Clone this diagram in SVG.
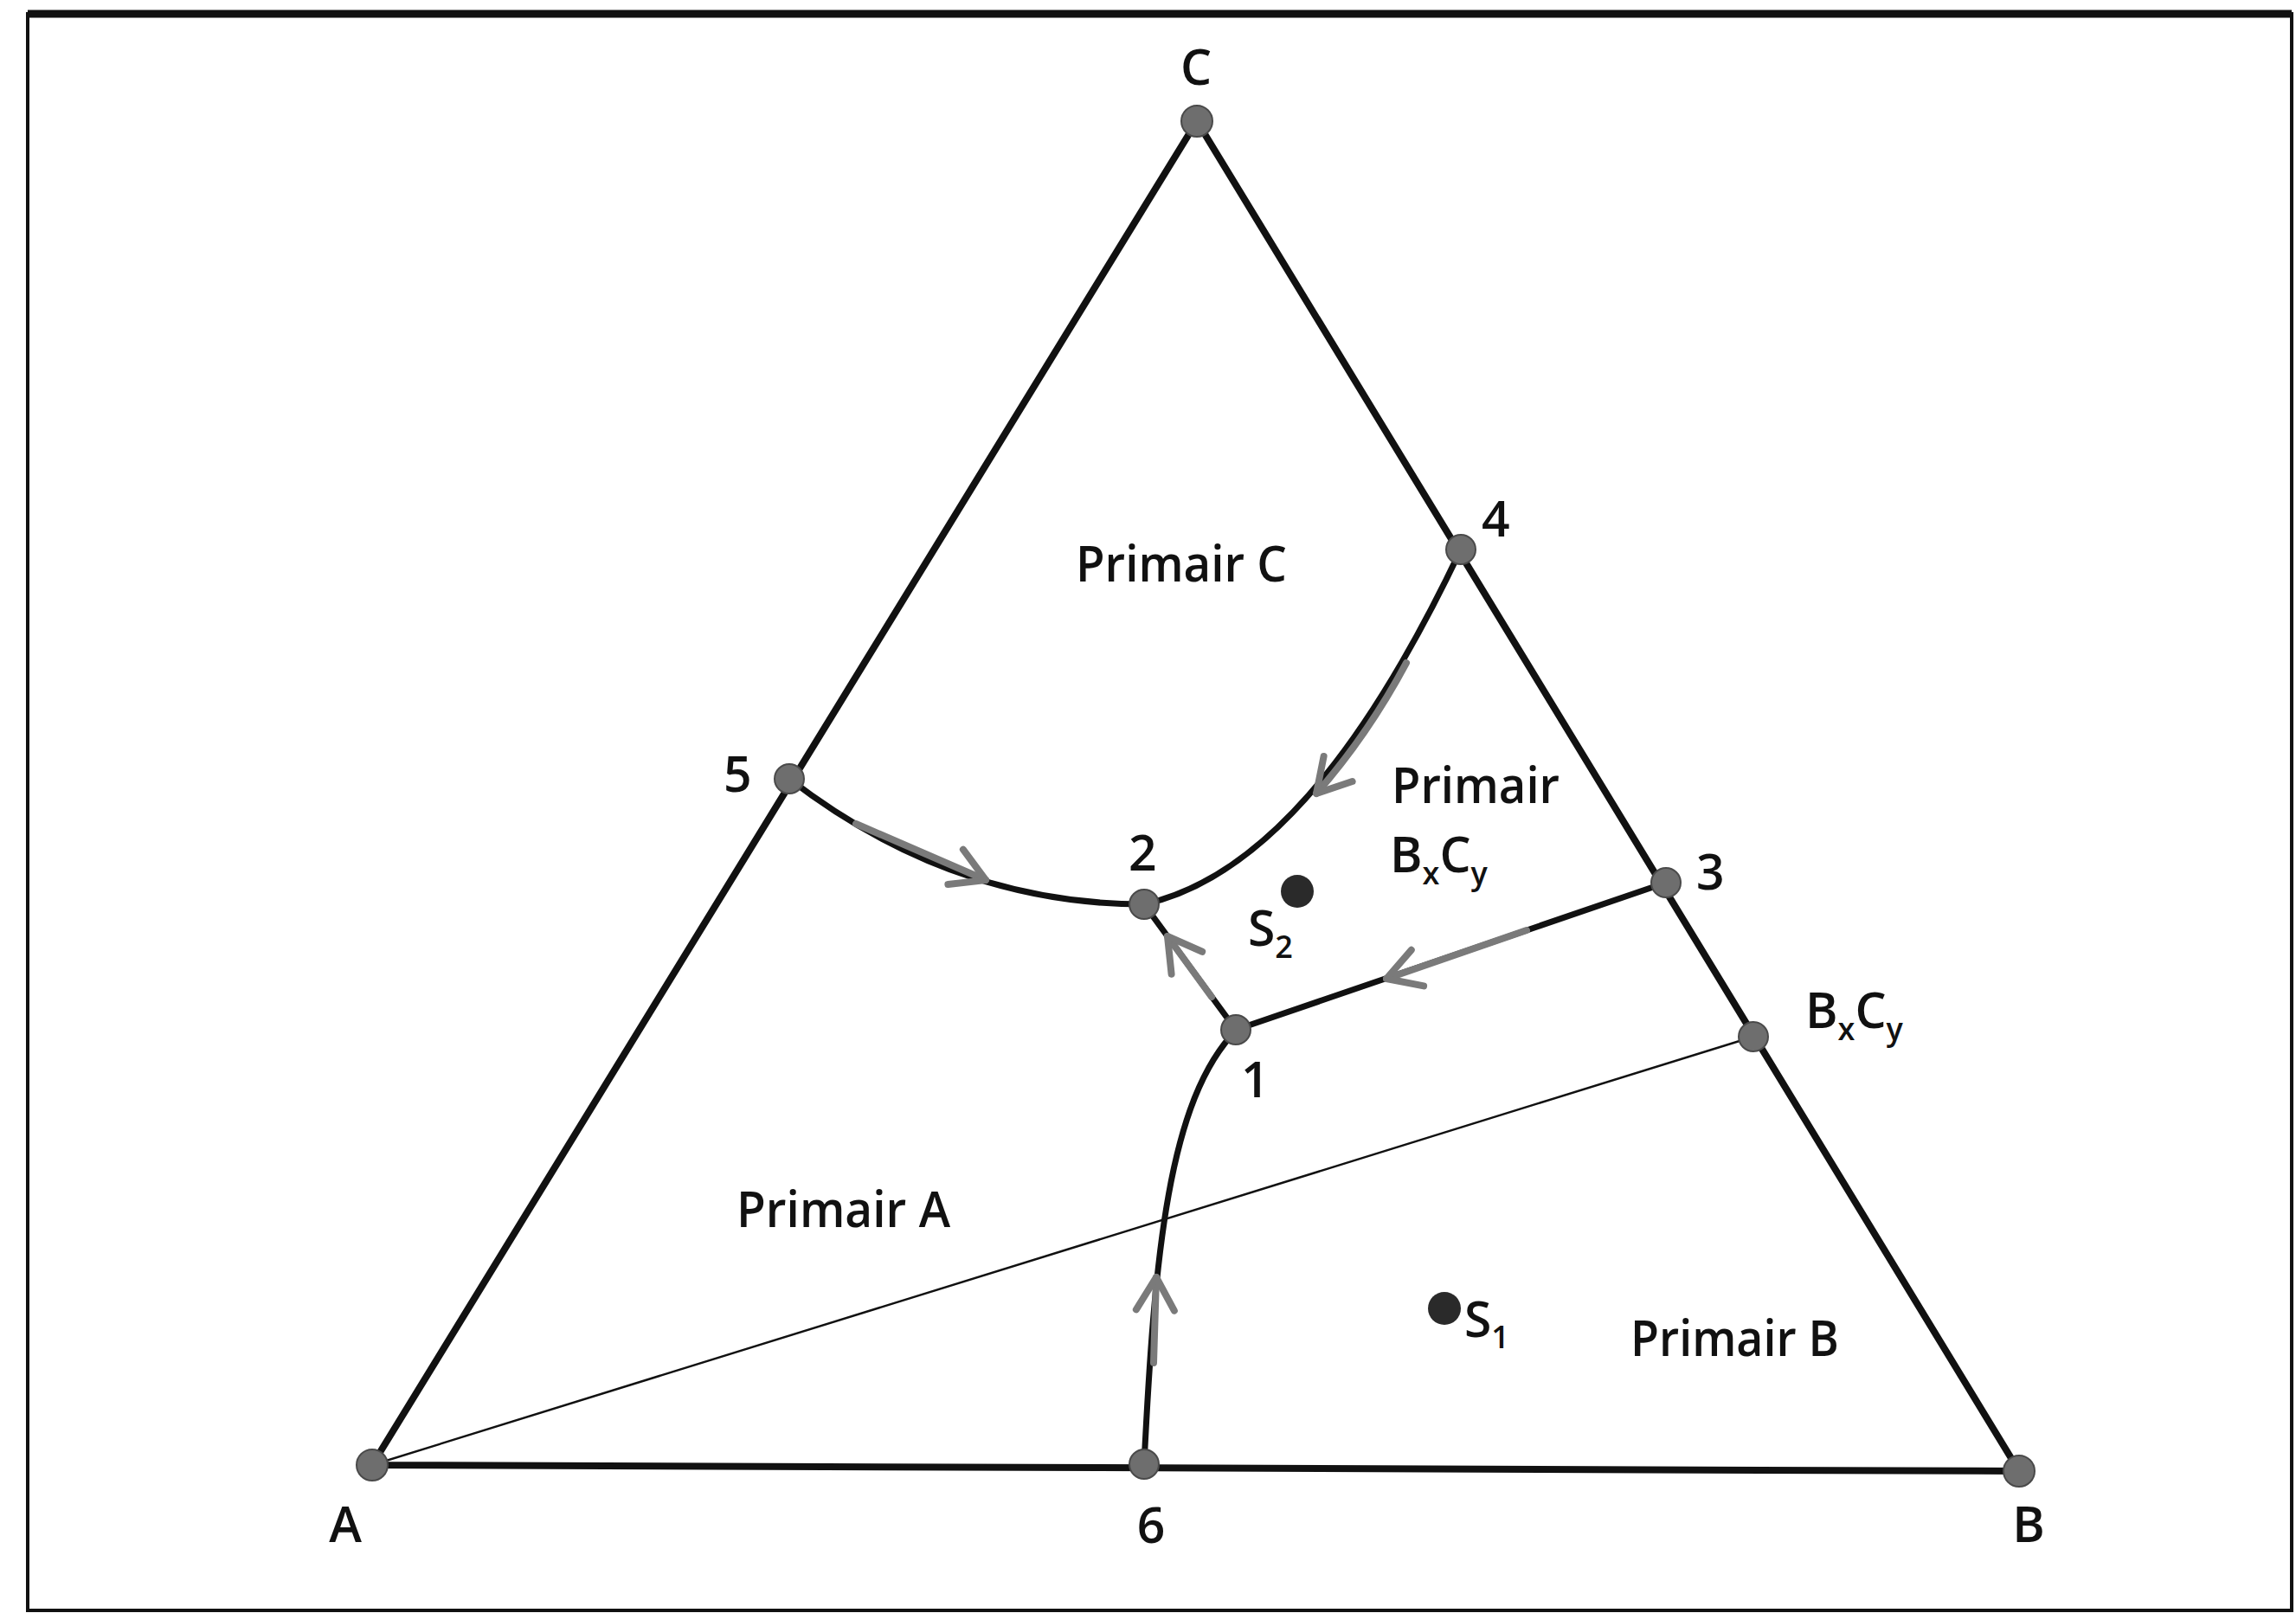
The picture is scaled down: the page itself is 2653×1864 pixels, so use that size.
<svg xmlns="http://www.w3.org/2000/svg" width="2653" height="1864" viewBox="0 0 2653 1864">
<style>
  .lbl { font-family: "Open Sans", "Liberation Sans", sans-serif; font-size: 57px; font-weight: 600; fill: #111; }
  .sub { font-size: 36px; }
  .side { fill: none; stroke: #111; stroke-width: 8; stroke-linecap: round; stroke-linejoin: round; }
  .cur { fill: none; stroke: #111; stroke-width: 7; stroke-linecap: round; }
  .thin { fill: none; stroke: #111; stroke-width: 2.5; }
  .gray { fill: none; stroke: #7a7a7a; stroke-width: 8; stroke-linecap: round; marker-end: url(#arr); }
  .pt { fill: #6e6e6e; stroke: #4a4a4a; stroke-width: 2; }
  .sp { fill: #2a2a2a; }
</style>
<defs>
  <marker id="arr" markerUnits="userSpaceOnUse" viewBox="-50 -30 60 60" markerWidth="60" markerHeight="60" refX="0" refY="0" orient="auto" overflow="visible">
    <path d="M-38,-22 L0,0 L-38,22" fill="none" stroke="#7a7a7a" stroke-width="8" stroke-linecap="round" stroke-linejoin="round"/>
  </marker>
</defs>
<rect x="0" y="0" width="2653" height="1864" fill="#fff"/>
<g id="frame">
  <rect x="32" y="16" width="2616" height="1845" fill="none" stroke="#111" stroke-width="4"/>
  <line x1="32" y1="16" x2="2648" y2="16" stroke="#111" stroke-width="9"/>
</g>
<g id="connectors">
  <path class="side" d="M1383,140 L430,1693 L2333,1700 Z"/>
  <path class="thin" d="M430,1693 L2026,1198"/>
  <path class="cur" d="M912,900 Q1100,1045 1322,1045"/>
  <path class="cur" d="M1688,635 C1600,820 1480,1010 1322,1045"/>
  <path class="cur" d="M1428,1190 L1322,1045"/>
  <path class="cur" d="M1925,1020 L1428,1190"/>
  <path class="cur" d="M1322,1692 C1334,1450 1350,1270 1429,1190"/>
  <path class="gray" d="M989,952 L1139,1017"/>
  <path class="gray" d="M1625,766 Q1580,850 1521,917"/>
  <path class="gray" d="M1764,1075 L1602,1131"/>
  <path class="gray" d="M1400,1152 L1349,1082"/>
  <path class="gray" d="M1333,1575 L1336,1476"/>
</g>
<g id="node-C"><circle class="pt" cx="1383" cy="140" r="18"/><text class="lbl" x="1382" y="98" text-anchor="middle">C</text></g>
<g id="node-A"><circle class="pt" cx="430" cy="1693" r="18"/><text class="lbl" x="399" y="1782" text-anchor="middle">A</text></g>
<g id="node-B"><circle class="pt" cx="2333" cy="1700" r="18"/><text class="lbl" x="2344" y="1782" text-anchor="middle">B</text></g>
<g id="node-4"><circle class="pt" cx="1688" cy="635" r="17"/><text class="lbl" x="1712" y="620">4</text></g>
<g id="node-5"><circle class="pt" cx="912" cy="900" r="17"/><text class="lbl" x="836" y="915">5</text></g>
<g id="node-2"><circle class="pt" cx="1322" cy="1045" r="17"/><text class="lbl" x="1304" y="1006">2</text></g>
<g id="node-3"><circle class="pt" cx="1925" cy="1020" r="17"/><text class="lbl" x="1960" y="1028">3</text></g>
<g id="node-1"><circle class="pt" cx="1428" cy="1190" r="17"/><text class="lbl" x="1434" y="1268">1</text></g>
<g id="node-6"><circle class="pt" cx="1322" cy="1692" r="17"/><text class="lbl" x="1330" y="1783" text-anchor="middle">6</text></g>
<g id="node-BxCy"><circle class="pt" cx="2026" cy="1198" r="17"/><text class="lbl" x="2086" y="1188">B<tspan class="sub" dy="14">x</tspan><tspan dy="-14">C</tspan><tspan class="sub" dy="14">y</tspan></text></g>
<g id="node-S2"><circle class="sp" cx="1499" cy="1030" r="19"/><text class="lbl" x="1442" y="1093">S<tspan class="sub" dy="14">2</tspan></text></g>
<g id="node-S1"><circle class="sp" cx="1669" cy="1512" r="19"/><text class="lbl" x="1692" y="1545">S<tspan class="sub" dy="13">1</tspan></text></g>
<g id="region-C"><text class="lbl" x="1243" y="672" textLength="244" lengthAdjust="spacingAndGlyphs">Primair C</text></g>
<g id="region-A"><text class="lbl" x="851" y="1418" textLength="247" lengthAdjust="spacingAndGlyphs">Primair A</text></g>
<g id="region-B"><text class="lbl" x="1884" y="1567" textLength="241" lengthAdjust="spacingAndGlyphs">Primair B</text></g>
<g id="region-BxCy"><text class="lbl" x="1608" y="928" textLength="194" lengthAdjust="spacingAndGlyphs">Primair</text><text class="lbl" x="1606" y="1008">B<tspan class="sub" dy="14">x</tspan><tspan dy="-14">C</tspan><tspan class="sub" dy="14">y</tspan></text></g>
</svg>
